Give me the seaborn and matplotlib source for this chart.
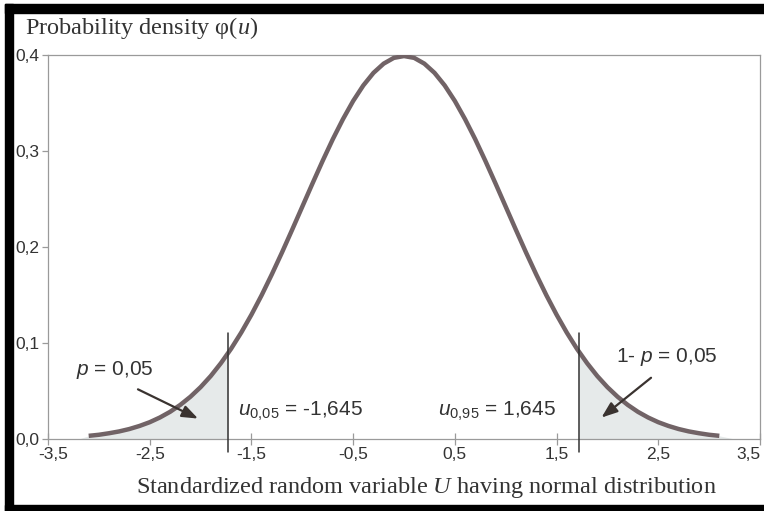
import numpy as np
import pandas as pd
import matplotlib
matplotlib.use("Agg")
import matplotlib.pyplot as plt
import matplotlib.transforms as mtransforms
import seaborn as sns
from matplotlib.patches import Rectangle

# ---- data ----
u_vals = [-3.1, -3.0, -2.9, -2.8, -2.7, -2.6, -2.5, -2.4, -2.3, -2.2, -2.1,
          -2.0, -1.9, -1.8, -1.7, -1.6, -1.5, -1.4, -1.3, -1.2, -1.1, -1.0,
          -0.9, -0.8, -0.7, -0.6, -0.5, -0.4, -0.3, -0.2, -0.1, 0.0,
          0.1, 0.2, 0.3, 0.4, 0.5, 0.6, 0.7, 0.8, 0.9, 1.0,
          1.1, 1.2, 1.3, 1.4, 1.5, 1.6, 1.7, 1.8, 1.9, 2.0,
          2.1, 2.2, 2.3, 2.4, 2.5, 2.6, 2.7, 2.8, 2.9, 3.0, 3.1]
phi_vals = [0.0033, 0.0044, 0.0060, 0.0079, 0.0104, 0.0136, 0.0175, 0.0224, 0.0283, 0.0355, 0.0440,
            0.0540, 0.0656, 0.0790, 0.0940, 0.1109, 0.1295, 0.1497, 0.1714, 0.1942, 0.2179, 0.2420,
            0.2661, 0.2897, 0.3123, 0.3332, 0.3521, 0.3683, 0.3814, 0.3910, 0.3970, 0.3989,
            0.3970, 0.3910, 0.3814, 0.3683, 0.3521, 0.3332, 0.3123, 0.2897, 0.2661, 0.2420,
            0.2179, 0.1942, 0.1714, 0.1497, 0.1295, 0.1109, 0.0940, 0.0790, 0.0656, 0.0540,
            0.0440, 0.0355, 0.0283, 0.0224, 0.0175, 0.0136, 0.0104, 0.0079, 0.0060, 0.0044, 0.0033]
# positions of the drawn critical lines as they appear in the picture
u_low = -1.73
u_high = 1.72
phi_low = 0.089
phi_high = 0.091
x_ticks = [-3.5, -2.5, -1.5, -0.5, 0.5, 1.5, 2.5, 3.5]
x_tick_labels = ["-3,5", "-2,5", "-1,5", "-0,5", "0,5", "1,5", "2,5", "3,5"]
y_ticks = [0.0, 0.1, 0.2, 0.3, 0.4]
y_tick_labels = ["0,0", "0,1", "0,2", "0,3", "0,4"]

df = pd.DataFrame({"u": u_vals, "phi": phi_vals})

sns.set_theme(style="white")
plt.rcParams["font.family"] = ["Liberation Sans", "DejaVu Sans"]
plt.rcParams["mathtext.fontset"] = "custom"
plt.rcParams["mathtext.rm"] = "Liberation Serif"
plt.rcParams["mathtext.it"] = "Liberation Serif:italic"
plt.rcParams["mathtext.sf"] = "Liberation Sans"
plt.rcParams["mathtext.cal"] = "Liberation Sans:italic"

W, H = 764, 511
fig = plt.figure(figsize=(W / 100, H / 100), dpi=100)
ax = fig.add_axes([48 / W, 1 - 439 / H, (760 - 48) / W, (439 - 55) / H])

# shaded tails
left = df[df.u < u_low]
right = df[df.u > u_high]
lx = [u_vals[0] - 0.1] + list(left.u) + [u_low]
ly = [0.0] + list(left.phi) + [phi_low]
rx = [u_high] + list(right.u) + [u_vals[-1] + 0.15]
ry = [phi_high] + list(right.phi) + [0.0]
fill_col = "#e6eaea"
ax.fill_between(lx, 0, ly, color=fill_col, lw=0, zorder=1)
ax.fill_between(rx, 0, ry, color=fill_col, lw=0, zorder=1)

sns.lineplot(data=df, x="u", y="phi", ax=ax, color="#716366", lw=3.2,
             zorder=3, solid_capstyle="butt")

# critical lines
for uc in (u_low, u_high):
    ax.plot([uc, uc], [-0.014, 0.11], color="#333333", lw=1.1, clip_on=False, zorder=4)

ax.set_xlim(-3.5, 3.5)
ax.set_ylim(0, 0.4)
ax.set_xticks(x_ticks)
ax.set_xticklabels(x_tick_labels)
ax.set_yticks(y_ticks)
ax.set_yticklabels(y_tick_labels)
ax.set_xlabel("")
ax.set_ylabel("")
for s in ax.spines.values():
    s.set_color("#9a9a9a")
    s.set_linewidth(0.9)
ax.tick_params(axis="x", direction="inout", length=8, width=0.9, color="#9a9a9a",
               labelsize=12.5, labelcolor="#333333", pad=2, bottom=True)
ax.tick_params(axis="y", direction="out", length=4, width=0.9, color="#9a9a9a",
               labelsize=12.5, labelcolor="#333333", pad=2, left=True)
xt = ax.get_xticklabels()
xt[0].set_transform(xt[0].get_transform() + mtransforms.ScaledTranslation(5 / 100, 0, fig.dpi_scale_trans))
xt[-1].set_transform(xt[-1].get_transform() + mtransforms.ScaledTranslation(-12 / 100, 0, fig.dpi_scale_trans))

txt_col = "#333333"
# annotations
ax.annotate("", xy=(-2.0, 0.020), xytext=(-2.64, 0.053),
            arrowprops=dict(arrowstyle="-|>,head_length=0.8,head_width=0.3",
                            color="#3a3330", lw=1.6))
ax.annotate("", xy=(1.92, 0.0205), xytext=(2.45, 0.0656),
            arrowprops=dict(arrowstyle="-|>,head_length=0.8,head_width=0.3",
                            color="#3a3330", lw=1.6))
ax.text(-2.84, 0.072, r"$\mathcal{p}$ = 0,05", ha="center", va="center",
        fontsize=15, color=txt_col)
ax.text(2.58, 0.085, r"1- $\mathcal{p}$ = 0,05", ha="center", va="center",
        fontsize=15, color=txt_col)
ax.text(-1.63, 0.030, r"$\mathcal{u}_{\mathsf{0{,}05}}$ = -1,645", ha="left", va="center",
        fontsize=15, color=txt_col)
ax.text(1.49, 0.030, r"$\mathcal{u}_{\mathsf{0{,}95}}$ = 1,645", ha="right", va="center",
        fontsize=15, color=txt_col)

# title and axis label (serif)
fig.text(25 / W, 1 - 28 / H, r"Probability density φ($\mathit{u}$)", ha="left", va="center",
         fontsize=17.5, family=["Liberation Serif", "DejaVu Serif"], color=txt_col)
fig.text(426 / W, 1 - 487 / H,
         r"Standardized random variable $\mathit{U}$ having normal distribution",
         ha="center", va="center", fontsize=17.5,
         family=["Liberation Serif", "DejaVu Serif"], color=txt_col)

# black frame pieces
fig.patches.append(Rectangle((5 / W, 0), 8 / W, 1 - 4 / H, transform=fig.transFigure,
                             color="black", zorder=10))
fig.patches.append(Rectangle((5 / W, 1 - 13 / H), 1 - 5 / W, 9 / H, transform=fig.transFigure,
                             color="black", zorder=10))
fig.patches.append(Rectangle((5 / W, 0), 1 - 5 / W, 6 / H, transform=fig.transFigure,
                             color="black", zorder=10))

fig.savefig("out.png", dpi=100)
